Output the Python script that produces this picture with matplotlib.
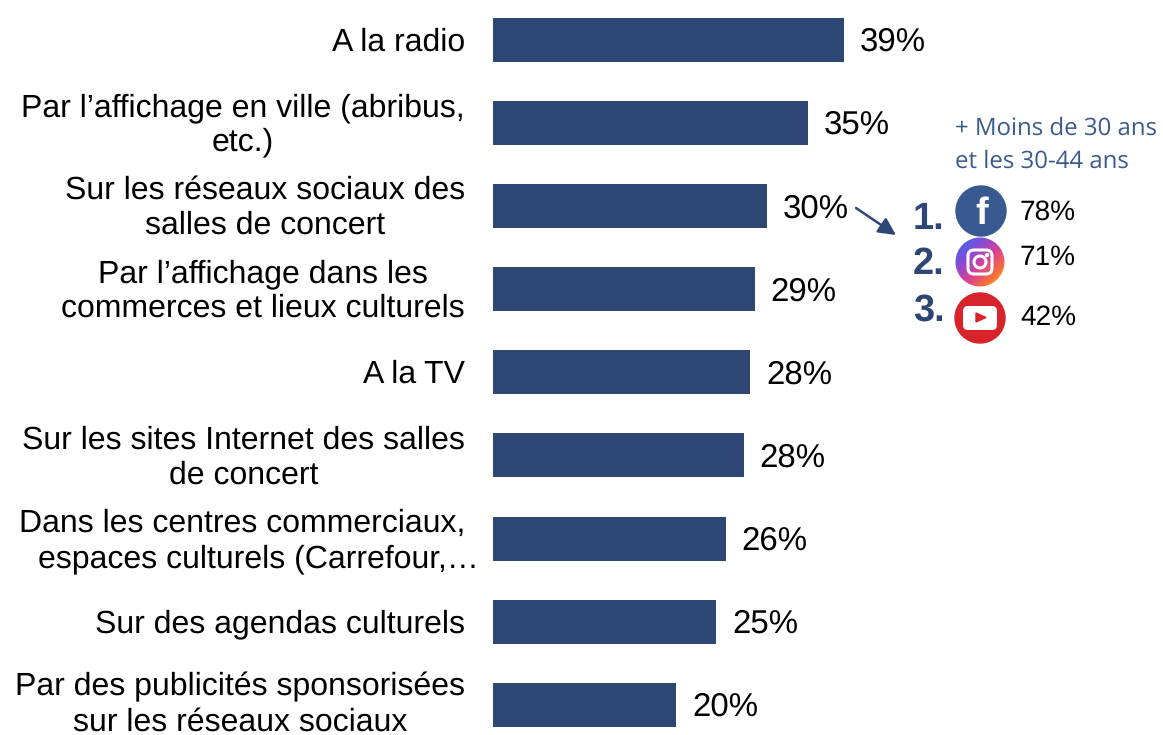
import numpy as np
import matplotlib.pyplot as plt
from matplotlib.patches import Circle, FancyBboxPatch, Polygon

plt.rcParams['font.family'] = ['Liberation Sans', 'DejaVu Sans']
plt.rcParams['text.hinting'] = 'no_hinting'
plt.rcParams['text.hinting_factor'] = 1

labels = ["A la radio", "Par l’affichage en ville (abribus,\netc.)",
          "Sur les réseaux sociaux des\nsalles de concert",
          "Par l’affichage dans les\ncommerces et lieux culturels", "A la TV",
          "Sur les sites Internet des salles\nde concert",
          "Dans les centres commerciaux,\nespaces culturels (Carrefour,…",
          "Sur des agendas culturels",
          "Par des publicités sponsorisées\nsur les réseaux sociaux"]
values = [39, 35, 30, 29, 28, 28, 26, 25, 20]
# the bars are not quite in proportion with their labels in the original
lengths = [39, 35.0, 30.4, 29.1, 28.6, 27.9, 25.9, 24.8, 20.35]
ranks = ["1.", "2.", "3."]
rank_values = ["78%", "71%", "42%"]

navy = "#2E4674"
text_blue = "#3B5A8C"

fig = plt.figure(figsize=(11.63, 7.35), dpi=100)

# pixel coordinates overlay for the side panel
over = fig.add_axes([0, 0, 1, 1])
over.axis('off')

# bar area
ax = fig.add_axes([493 / 1163, 0, 1 - 493 / 1163, 1])
ax.patch.set_alpha(0)
scale = 351 / 39
ax.set_xlim(0, (1163 - 493) / scale)
step = 83.1
ax.set_ylim((735 - 40) / step, -40 / step)
y = np.arange(len(values))
ax.barh(y, lengths, height=44 / step, color=navy)
ax.axis('off')

for i, (v, l) in enumerate(zip(values, lengths)):
    ax.text(l + 15.7 / scale, i + 0.03, f"{v}%", va='center', ha='left', fontsize=23.5, color='black')
    if i == 6:
        # this label is left-shifted in the original
        over.text(465, 40 + i * step, labels[i].split("\n")[0], ha='right', va='bottom', fontsize=22.85, color='black')
        over.text(479, 40 + i * step + 6, labels[i].split("\n")[1], ha='right', va='top', fontsize=22.85, color='black')
    else:
        # last label sits right on the bottom edge
        dy = -0.5 if i == 8 else 2
        over.text(465, 40 + i * step + dy, labels[i], ha='right', va='center', fontsize=22.85, color='black',
                  multialignment='center', linespacing=1.22)

# instagram gradient background
gx, gy = np.meshgrid(np.linspace(0, 1, 60), np.linspace(0, 1, 60))
grad_pos = (gx + gy) / 2
stops = [0, 0.3, 0.55, 0.8, 1]
stop_cols = np.array([[0.15, 0.45, 0.95], [0.5, 0.3, 0.85], [0.85, 0.25, 0.6], [0.98, 0.45, 0.2], [1.0, 0.9, 0.2]])
grad = np.dstack([np.interp(grad_pos, stops, stop_cols[:, c]) for c in range(3)])
icon_insta = (980, 262)
im = over.imshow(grad, extent=(955, 1005, 287, 237), aspect='auto', interpolation='bilinear')
im.set_clip_path(Circle(icon_insta, 24.5, transform=over.transData))

over.set_xlim(0, 1163)
over.set_ylim(735, 0)

# side panel
over.text(955, 128.5, "+ Moins de 30 ans", fontsize=17.4, color=text_blue, va='center', family='Open Sans')
over.text(955, 161.5, "et les 30-44 ans", fontsize=17.4, color=text_blue, va='center', family='Open Sans')

over.annotate("", xy=(896, 235), xytext=(856, 208),
              arrowprops=dict(arrowstyle='-|>', color=navy, lw=1.8, mutation_scale=26, shrinkA=0, shrinkB=0))

rank_y = [219, 264, 311]
value_y = [212, 258, 318]
for r, ry in zip(ranks, rank_y):
    over.text(913, ry, r, fontsize=27.5, fontweight='bold', color=navy, va='center')
for v, vy in zip(rank_values, value_y):
    over.text(1020, vy, v, fontsize=20.5, color='black', va='center')

# facebook
over.add_patch(Circle((981, 211), 25, color="#37598F"))
over.text(982, 214, "f", fontsize=27, fontweight='bold', color='white', ha='center', va='center')
# instagram
over.add_patch(FancyBboxPatch((968, 250), 24, 24, boxstyle="round,pad=0,rounding_size=6",
                              fc='none', ec='white', lw=2.2))
over.add_patch(Circle(icon_insta, 6, fc='none', ec='white', lw=2.2))
over.add_patch(Circle((987, 255), 1.5, color='white'))
# youtube
over.add_patch(Circle((980, 318), 25, color="#D8232A"))
over.add_patch(FancyBboxPatch((963, 306), 34, 24, boxstyle="round,pad=0,rounding_size=5",
                              fc='white', ec='none'))
over.add_patch(Polygon([(976, 313), (976, 322), (986, 317.5)], color="#D8232A"))

fig.savefig("out.png", dpi=100)
